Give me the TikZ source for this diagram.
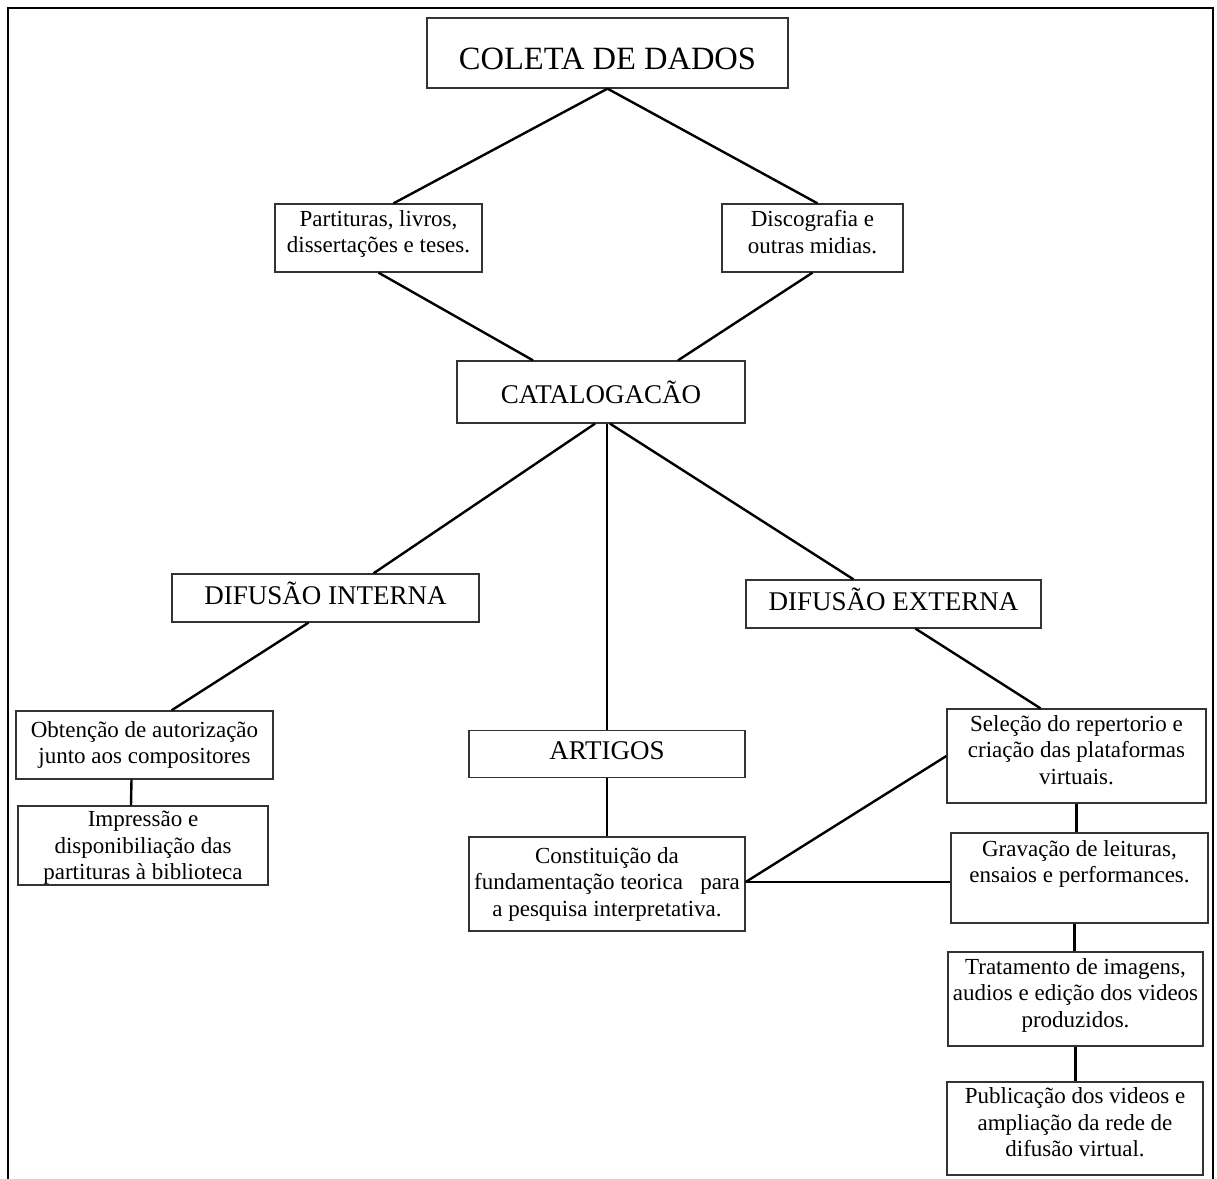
\documentclass[tikz,border=0pt]{standalone}
\usepackage{fontspec}
\setmainfont{Liberation Serif}
\usepackage{tikz}

\begin{document}
\begin{tikzpicture}[x=1pt, y=-1pt,
    caixa/.style={draw=black!80, line width=1.3pt, align=center, inner sep=0pt,
      font=\fontsize{23}{26.5}\selectfont},
    titulo/.style={caixa, font=\fontsize{27}{31}\selectfont},
    liga/.style={line width=2.4pt}]
    \useasboundingbox (0, 0) rectangle (1217, 1178);
    \draw[line width=2pt] (8, 1190) -- (8, 8) -- (1213, 8) -- (1213, 1190);
    % nivel 1
    \node[titulo, font=\fontsize{32.5}{36}\selectfont, text height=33pt, minimum width=361pt, minimum height=70pt] (coleta) at (607.5, 53) {COLETA DE DADOS};
    \node[caixa, text depth=13pt, minimum width=207pt, minimum height=68pt] (partituras) at (378.5, 238) {Partituras, livros,\\dissertações e teses.};
    \node[caixa, text depth=12pt, minimum width=181pt, minimum height=68pt] (discografia) at (812.5, 238) {Discografia e\\outras midias.};
    \node[titulo, minimum width=288pt, minimum height=62pt] (catalog) at (601, 392) {CATALOGACÃO};
    % nivel 2
    \node[titulo, text depth=10pt, minimum width=307pt, minimum height=48pt] (difint) at (325.5, 598) {DIFUSÃO INTERNA};
    \node[titulo, text depth=10pt, minimum width=295pt, minimum height=48pt] (difext) at (893.5, 604) {DIFUSÃO EXTERNA};
    \node[titulo, text depth=6pt, minimum width=276pt, minimum height=47pt] (artigos) at (607, 754) {ARTIGOS};
    \node[caixa, minimum width=257pt, minimum height=68pt] (obtencao) at (144.5, 745) {Obtenção de autorização\\junto aos compositores};
    \node[caixa, text depth=0pt, minimum width=250pt, minimum height=79pt] (impressao) at (143, 845.5) {Impressão e\\disponibiliação das\\partituras à biblioteca};
    \node[caixa, minimum width=276pt, minimum height=94pt] (constituicao) at (607, 884) {Constituição da\\fundamentação teorica~~~para\\a pesquisa interpretativa.};
    % difusao externa
    \node[caixa, text depth=12pt, minimum width=259pt, minimum height=94pt] (selecao) at (1076.5, 756) {Seleção do repertorio e\\criação das plataformas\\virtuais.};
    \node[caixa, text depth=6pt, minimum width=257pt, minimum height=90pt] (gravacao) at (1079.5, 878) {Gravação de leituras,\\ensaios e performances.\\\mbox{}};
    \node[caixa, text depth=12.5pt, minimum width=255pt, minimum height=94pt] (tratamento) at (1075.5, 999) {Tratamento de imagens,\\audios e edição dos videos\\produzidos.};
    \node[caixa, text depth=12pt, minimum width=256pt, minimum height=93pt] (publicacao) at (1075, 1128.5) {Publicação dos videos e\\ampliação da rede de\\difusão virtual.};
    % ligacoes
    \draw[liga] (coleta.south) -- ([xshift=15pt]partituras.north);
    \draw[liga] (coleta.south) -- ([xshift=5pt]discografia.north);
    \draw[liga] (partituras.south) -- ([xshift=-68pt]catalog.north);
    \draw[liga] (discografia.south) -- ([xshift=77pt]catalog.north);
    \draw[liga] ([xshift=-6pt]catalog.south) -- ([xshift=48pt]difint.north);
    \draw[liga] (artigos.north |- catalog.south) -- (artigos.north);
    \draw[liga] ([xshift=9pt]catalog.south) -- ([xshift=-40pt]difext.north);
    \draw[liga] ([xshift=-17pt]difint.south) -- ([xshift=27pt]obtencao.north);
    \draw[liga] ([xshift=22pt]difext.south) -- ([xshift=-36pt]selecao.north);
    \draw[liga] ([xshift=-13pt]obtencao.south) -- ([xshift=-12pt]impressao.north);
    \draw[liga] (artigos.south) -- (constituicao.north);
    \draw[liga] ([yshift=2pt]constituicao.east) -- (selecao.west);
    \draw[liga] ([yshift=2pt]constituicao.east) -- ([yshift=-4pt]gravacao.west);
    \draw[liga] (selecao.south) -- (selecao.south |- gravacao.north);
    \draw[liga] ([xshift=-5pt]gravacao.south) -- ([xshift=-5pt]gravacao.south |- tratamento.north);
    \draw[liga] (tratamento.south) -- (tratamento.south |- publicacao.north);
\end{tikzpicture}
\end{document}
